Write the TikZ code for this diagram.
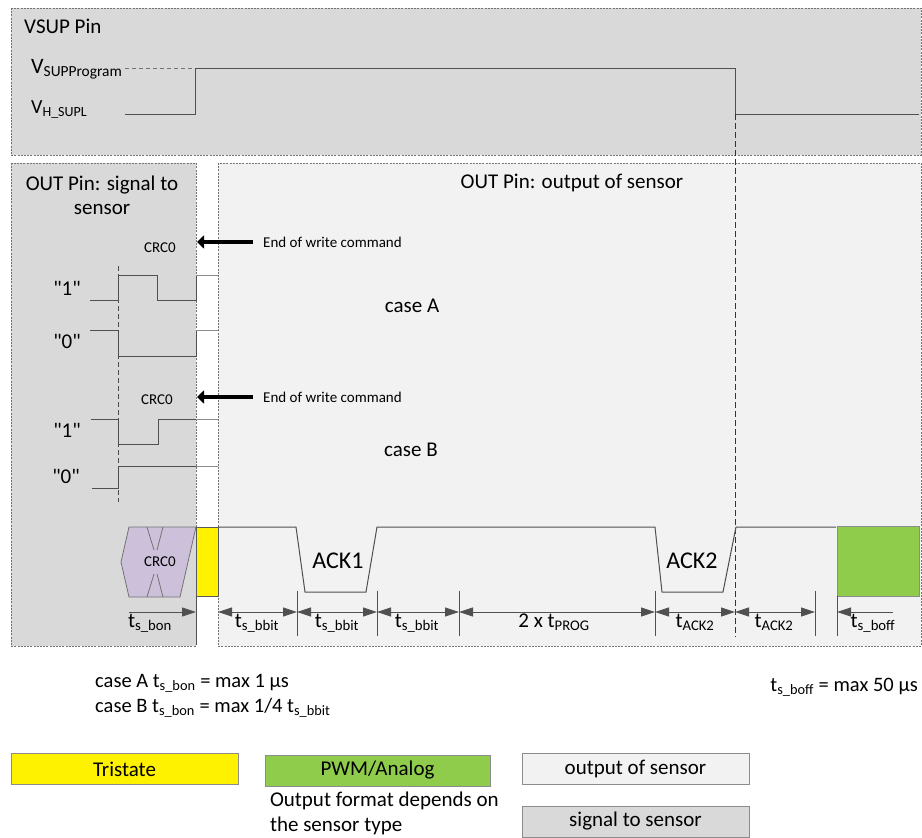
\documentclass[tikz,border=0pt]{standalone}
\usepackage{fontspec}
\setmainfont{Carlito}
\usetikzlibrary{arrows.meta,positioning,calc}

\definecolor{panelgray}{HTML}{D9D9D9}
\definecolor{panellight}{HTML}{F2F2F2}
\definecolor{crcfill}{HTML}{CCC0DA}
\definecolor{pwmgreen}{HTML}{8FCC4C}
\definecolor{wavegray}{HTML}{505050}

\begin{document}
\begin{tikzpicture}[x=1pt,y=-1pt,
  panel/.style={draw=black!55, dash pattern=on 2pt off 1.2pt, line width=0.6pt},
  wave/.style={draw=wavegray, line width=1pt},
  stub/.style={draw=black!45, line width=1pt},
  tick/.style={draw=wavegray, line width=0.9pt},
  dim/.style={{Triangle[length=14pt,width=9pt]}-{Triangle[length=14pt,width=9pt]}, draw=wavegray, line width=0.8pt},
  writearr/.style={-{Triangle[length=7pt,width=13pt]}, line width=4pt},
  lbl/.style={font=\fontsize{21}{24}\selectfont, inner sep=0pt},
  small/.style={font=\fontsize{15}{18}\selectfont, inner sep=0pt},
  tlbl/.style={font=\fontsize{21}{24}\selectfont, inner sep=0pt, anchor=base},
  note/.style={font=\fontsize{20.5}{25}\selectfont, inner sep=0pt},
  legend/.style={draw=black!45, minimum width=227pt, minimum height=31pt, inner sep=0pt,
                 font=\fontsize{21}{24}\selectfont}
]
\useasboundingbox (0,0) rectangle (922,838);

% panels
\draw[panel, fill=panelgray] (11,8) rectangle (921,155);
\draw[panel, fill=panelgray] (11,163) rectangle (196,646);
\draw[panel, fill=panellight] (218,163) rectangle (921,646);

% VSUP pin
\node[lbl, anchor=base west] (vsup) at (24,33) {VSUP Pin};
\node[anchor=base west, inner sep=0pt, font=\fontsize{22}{26}\selectfont] (vprog) at (31,73) {V\textsubscript{SUPProgram}};
\node[anchor=base west, inner sep=0pt, font=\fontsize{20}{22}\selectfont] (vhsupl) at (31,113) {V\textsubscript{H\_SUPL}};
\draw[draw=black!55, dash pattern=on 4pt off 3pt, line width=0.9pt] (125,68) -- (195,68);
\draw[wave] (125,114) -- (195,114) -- (195,68) -- (735,68) -- (735,114) -- (919,114);
\draw[draw=black!80, dash pattern=on 6pt off 3pt, line width=0.8pt] (735,114) -- (735,637);

% titles
\node[lbl, align=center] (sigtitle) at (102,195) {OUT Pin: signal to\\sensor};
\node[lbl] (outtitle) at (572,183) {OUT Pin: output of sensor};

% case A
\node[small] (crcA) at (160,248) {CRC0};
\node[small, anchor=west] (wrA) at (263,242) {End of write command};
\coordinate (tipA) at (197,242);
\draw[writearr] ([xshift=-10pt]wrA.west) -- (tipA);
\node[lbl] (oneA) at (67,288) {\textquotedbl1\textquotedbl};
\node[lbl] (zeroA) at (67,341) {\textquotedbl0\textquotedbl};
\draw[wave] (90,300) -- (118,300) -- (118,275) -- (157,275) -- (157,300) -- (196,300) -- (196,275);
\draw[stub] (196,275) -- (218,275);
\draw[wave] (90,330) -- (118,330) -- (118,356) -- (196,356) -- (196,330);
\draw[stub] (196,330) -- (218,330);
\node[lbl] (caseA) at (412,306) {case A};

% case B
\node[small] (crcB) at (157,400) {CRC0};
\node[small, anchor=west] (wrB) at (263,397) {End of write command};
\coordinate (tipB) at (197,397);
\draw[writearr] ([xshift=-10pt]wrB.west) -- (tipB);
\node[lbl] (oneB) at (67,430) {\textquotedbl1\textquotedbl};
\node[lbl] (zeroB) at (66,476) {\textquotedbl0\textquotedbl};
\draw[wave] (91,419) -- (118,419) -- (118,444) -- (158,444) -- (158,419) -- (196,419);
\draw[stub] (196,419) -- (218,419);
\draw[wave] (92,488) -- (118,488) -- (118,466) -- (196,466);
\draw[stub] (196,466) -- (218,466);
\node[lbl] (caseB) at (411,450) {case B};
\draw[draw=black!70, dash pattern=on 5pt off 3pt, line width=0.7pt] (118,266) -- (118,502);

% output sequence
\draw[draw=black!55, fill=crcfill, line width=0.8pt] (129,527) -- (196,527) -- (180,597) -- (129,597) -- (121,562) -- cycle;
\draw[draw=black!55, line width=0.8pt] (147,527) -- (154,550) (163,527) -- (157,550)
  (147,597) -- (154,574) (163,597) -- (157,574);
\node[small] (crcbit) at (160,562) {CRC0};
\draw[draw=black!65, fill=yellow, line width=0.8pt] (196,527) rectangle (218,596);
\draw[wave] (218,527) -- (296,527) -- (305,592) -- (366,592) -- (377,527) -- (655,527)
  -- (662,592) -- (723,592) -- (736,527) -- (836,527);
\draw[draw=black!45, fill=pwmgreen, line width=0.8pt] (837,526) rectangle (919,596);
\node[font=\fontsize{24}{28}\selectfont, inner sep=0pt] (ackone) at (338,561) {ACK1};
\node[font=\fontsize{24}{28}\selectfont, inner sep=0pt] (acktwo) at (692,561) {ACK2};

% timing
\draw[tick] (196,596) -- (196,645);
\draw[tick] (297,591) -- (297,636);
\draw[tick] (377,591) -- (377,636);
\draw[tick] (459,591) -- (459,636);
\draw[tick] (655,591) -- (655,636);
\draw[tick] (815,591) -- (815,636);
\draw[tick] (837,596) -- (837,636);
\coordinate (k0) at (129,612);
\coordinate (k1) at (196,612);
\coordinate (k2) at (218,612);
\coordinate (k3) at (297,612);
\coordinate (k4) at (377,612);
\coordinate (k5) at (459,612);
\coordinate (k6) at (655,612);
\coordinate (k7) at (735,612);
\coordinate (k8) at (815,612);
\coordinate (k9) at (837,612);
\coordinate (k10) at (893,612);
\draw[draw=wavegray, line width=0.8pt, -{Triangle[length=14pt,width=9pt]}] (k0) -- (k1);
\draw[dim] (k2) -- (k3);
\draw[dim] (k3) -- (k4);
\draw[dim] (k4) -- (k5);
\draw[dim] (k5) -- (k6);
\draw[dim] (k6) -- (k7);
\draw[dim] (k7) -- (k8);
\draw[draw=wavegray, line width=0.8pt, -{Triangle[length=14pt,width=9pt]}] (k10) -- (k9);
\node[tlbl] (tbon) at (150,627) {t\textsubscript{s\_bon}};
\node[tlbl] (tbbitA) at (257,627) {t\textsubscript{s\_bbit}};
\node[tlbl] (tbbitB) at (337,627) {t\textsubscript{s\_bbit}};
\node[tlbl] (tbbitC) at (417,627) {t\textsubscript{s\_bbit}};
\node[tlbl] (tprog) at (554,627) {2 x t\textsubscript{PROG}};
\node[tlbl] (tackA) at (695,627) {t\textsubscript{ACK2}};
\node[tlbl] (tackB) at (774,627) {t\textsubscript{ACK2}};
\node[tlbl] (tboff) at (873,627) {t\textsubscript{s\_boff}};

% notes
\node[note, anchor=west] (noteA) at (95,683) {case A t\textsubscript{s\_bon} = max 1 µs};
\node[note, anchor=west] (noteB) at (95,708) {case B t\textsubscript{s\_bon} = max 1/4 t\textsubscript{s\_bbit}};
\node[note, anchor=east] (noteoff) at (918,687) {t\textsubscript{s\_boff} = max 50 µs};

% legend
\node[legend, fill=yellow] (tri) at (124.5,769) {Tristate};
\node[legend, fill=pwmgreen, minimum width=225pt] (pwm) at (377.5,770.5) {PWM/Analog};
\node[legend, fill=panellight] (outleg) at (635.5,769) {output of sensor};
\node[legend, fill=panelgray] (sigleg) at (635.5,821.5) {signal to sensor};
\node[font=\fontsize{21}{25}\selectfont, inner sep=0pt, align=left, anchor=north west] (pwmnote) at ([xshift=5pt,yshift=-6pt]pwm.south west) {Output format depends on\\the sensor type};
\end{tikzpicture}
\end{document}
